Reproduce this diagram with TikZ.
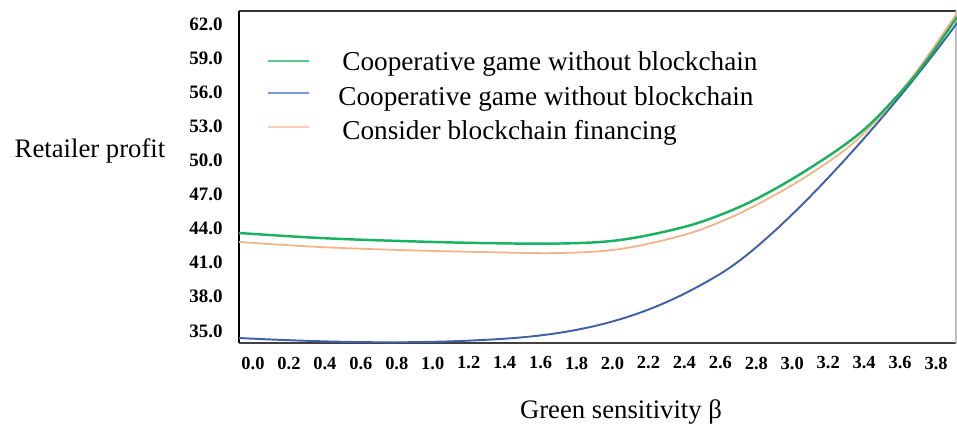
\documentclass[tikz,border=0pt]{standalone}
\usepackage{fontspec}
\setmainfont{Liberation Serif}
\definecolor{cgreen}{RGB}{24,178,96}
\definecolor{cblue}{RGB}{64,96,168}
\definecolor{corange}{RGB}{246,178,136}
\definecolor{lgreen}{RGB}{90,200,140}
\definecolor{lblue}{RGB}{120,150,220}
\definecolor{lorange}{RGB}{250,205,180}
\tikzset{
  ytick/.style={anchor=east, inner sep=0pt, font=\fontsize{10.8}{11}\selectfont\bfseries},
  xtick/.style={anchor=center, inner sep=0pt, font=\fontsize{10.5}{11}\selectfont\bfseries},
  legtext/.style={anchor=base west, inner sep=0pt, font=\fontsize{15.5}{17}\selectfont},
  axlabel/.style={anchor=center, inner sep=0pt, font=\fontsize{15.2}{17}\selectfont},
  legline/.style={line width=0.6pt},
}
\begin{document}
\begin{tikzpicture}[x=0.02cm,y=-0.02cm]
\useasboundingbox[fill=white] (0,0) rectangle (957,426);
% frame
\coordinate (tl) at (239,11);
\coordinate (tr) at (956,11);
\coordinate (bl) at (239,343);
\coordinate (br) at (956,343);
\draw[line width=0.9pt, black!80] (tl) -- (tr);
\draw[line width=0.9pt, black] (tl) -- (bl);
\draw[line width=1.4pt, black!75] (bl) -- (br);
\draw[line width=0.6pt, black!25] (tr) -- (br);
% y tick labels
\foreach \v [count=\i from 0] in {62.0,59.0,56.0,53.0,50.0,47.0,44.0,41.0,38.0,35.0}
  \node[ytick] (y\i) at (223,{24+34.1*\i}) {\v};
% x tick labels
\foreach \v [count=\i from 0] in {0.0,0.2,0.4,0.6,0.8,1.0,1.2,1.4,1.6,1.8,2.0,2.2,2.4,2.6,2.8,3.0,3.2,3.4,3.6,3.8}
  \node[xtick] (x\i) at ({253+35.95*\i},363) {\v};
% axis labels
\node[axlabel] (ylab) at (90,151) {Retailer profit};
\node[axlabel] (xlab) at (621,412) {Green sensitivity β};
% curves
\draw[corange, line width=1.0pt] plot[smooth, tension=0.6] coordinates {
  (239,242) (320,247) (400,250) (480,252) (560,253) (620,249) (680,236) (720,222)
  (760,203) (810,174) (860,137) (910,80) (957,13)};
\draw[cblue, line width=1.1pt] (239,338) .. controls (340,343) and (420,344) .. (500,339)
  .. controls (600,333) and (660,310) .. (720,274)
  .. controls (780,238) and (890,115) .. (957,23);
\draw[cgreen, line width=1.4pt] plot[smooth, tension=0.6] coordinates {
  (239,233) (320,238) (400,241) (480,243) (560,243.5) (620,240) (680,228) (720,215)
  (760,197) (810,168) (860,133) (900,93) (927,60) (957,17)};
% legend
\coordinate (g1) at (268,61); \coordinate (g2) at (309,61);
\coordinate (b1) at (268,93); \coordinate (b2) at (309,93);
\coordinate (o1) at (268,127); \coordinate (o2) at (309,127);
\draw[legline, lgreen] (g1) -- (g2);
\draw[legline, lblue] (b1) -- (b2);
\draw[legline, lorange] (o1) -- (o2);
\node[legtext] (l1) at (342,70) {Cooperative game without blockchain};
\node[legtext] (l2) at (338,105) {Cooperative game without blockchain};
\node[legtext] (l3) at (342,139) {Consider blockchain financing};
\end{tikzpicture}
\end{document}
